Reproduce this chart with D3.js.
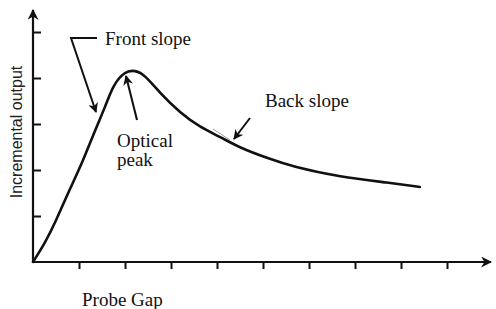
<!DOCTYPE html>
<html>
<head>
<meta charset="utf-8">
<script src="https://cdn.jsdelivr.net/npm/d3@7"></script>
<style>
  body { margin: 0; background: #fff; }
  svg { display: block; }
  .serif { font-family: "Liberation Serif", "Times New Roman", serif; fill: #111; }
</style>
</head>
<body>
<div class="chart"></div>
<script>
// x in probe-gap tick units, y in output tick units
const gapValues = [0, 0.26, 0.48, 0.76, 1.07, 1.35, 1.57, 1.74, 2.0, 2.22, 2.43, 2.76, 3.2, 3.63, 4.07, 4.5, 5.09, 5.65, 6.67, 7.76, 8.41]
const outputValues = [0, 0.41, 0.85, 1.5, 2.15, 2.87, 3.37, 3.85, 4.15, 4.17, 4.07, 3.67, 3.24, 2.93, 2.72, 2.48, 2.26, 2.07, 1.85, 1.72, 1.63]
const xTicks = [1, 2, 3, 4, 5, 6, 7, 8, 9]
const yTicks = [1, 2, 3, 4, 5]
const xTitle = "Probe Gap"
const yTitle = "Incremental output"

const width = 496, height = 309

const svg = d3.select(".chart")
  .append("svg")
  .attr("width", width)
  .attr("height", height)

const x = d3.scaleLinear().domain([0, 10]).range([33, 493])
const y = d3.scaleLinear().domain([0, 5]).range([262, 32])

// arrowheads
const defs = svg.append("defs")
defs.append("marker")
  .attr("id", "head")
  .attr("viewBox", "0 0 10 10")
  .attr("refX", 9).attr("refY", 5)
  .attr("markerWidth", 5).attr("markerHeight", 5)
  .attr("markerUnits", "strokeWidth")
  .attr("orient", "auto")
  .append("path")
  .attr("d", "M0,0 L10,5 L0,10 L3,5 Z")
  .attr("fill", "#111")

// x axis: ticks below, no labels
const xAxis = svg.append("g")
  .attr("transform", `translate(0,${y(0)})`)
  .call(d3.axisBottom(x).tickValues(xTicks).tickSize(7).tickFormat(""))
xAxis.select(".domain").remove()
xAxis.selectAll(".tick line").attr("stroke", "#111").attr("stroke-width", 2)
svg.append("line")
  .attr("x1", x(0)).attr("x2", 491)
  .attr("y1", y(0)).attr("y2", y(0))
  .attr("stroke", "#111").attr("stroke-width", 2.2)
  .attr("marker-end", "url(#head)")

// y axis: ticks to the right
const yAxis = svg.append("g")
  .attr("transform", `translate(${x(0)},0)`)
  .call(d3.axisRight(y).tickValues(yTicks).tickSize(8).tickFormat(""))
yAxis.select(".domain").remove()
yAxis.selectAll(".tick line").attr("stroke", "#111").attr("stroke-width", 2)
svg.append("line")
  .attr("x1", x(0)).attr("x2", x(0))
  .attr("y1", y(0) + 1).attr("y2", 10)
  .attr("stroke", "#111").attr("stroke-width", 2.2)
  .attr("marker-end", "url(#head)")

// the response curve
const pts = gapValues.map((g, i) => [g, outputValues[i]])
const line = d3.line()
  .x(d => x(d[0]))
  .y(d => y(d[1]))
  .curve(d3.curveBasis)
svg.append("path")
  .datum(pts)
  .attr("d", line)
  .attr("fill", "none")
  .attr("stroke", "#111")
  .attr("stroke-width", 2.6)
  .attr("stroke-linejoin", "round")
  .attr("stroke-linecap", "round")

// titles
svg.append("text")
  .attr("transform", "translate(22,132) rotate(-90)")
  .attr("text-anchor", "middle")
  .attr("font-family", "'Liberation Sans', Arial, sans-serif")
  .attr("font-size", 16)
  .attr("fill", "#222")
  .text(yTitle)

svg.append("text")
  .attr("class", "serif")
  .attr("x", 82).attr("y", 306)
  .attr("font-size", 19)
  .text(xTitle)

// annotations
const note = (txt, tx, ty) => svg.append("text")
  .attr("class", "serif")
  .attr("x", tx).attr("y", ty)
  .attr("font-size", 19)
  .text(txt)

note("Front slope", 105, 45)
svg.append("path")
  .attr("d", "M97,38 L71,38 L96,112")
  .attr("fill", "none").attr("stroke", "#111").attr("stroke-width", 2)
  .attr("marker-end", "url(#head)")

note("Optical", 117, 147)
note("peak", 117, 166)
svg.append("line")
  .attr("x1", 137).attr("y1", 120)
  .attr("x2", 126).attr("y2", 76)
  .attr("stroke", "#111").attr("stroke-width", 2)
  .attr("marker-end", "url(#head)")

note("Back slope", 265, 107)
svg.append("line")
  .attr("x1", 250).attr("y1", 118)
  .attr("x2", 234).attr("y2", 139)
  .attr("stroke", "#111").attr("stroke-width", 2)
  .attr("marker-end", "url(#head)")
svg.append("line")
  .attr("x1", 213).attr("y1", 129)
  .attr("x2", 230).attr("y2", 140)
  .attr("stroke", "#888").attr("stroke-width", 0.8)
</script>
</body>
</html>
